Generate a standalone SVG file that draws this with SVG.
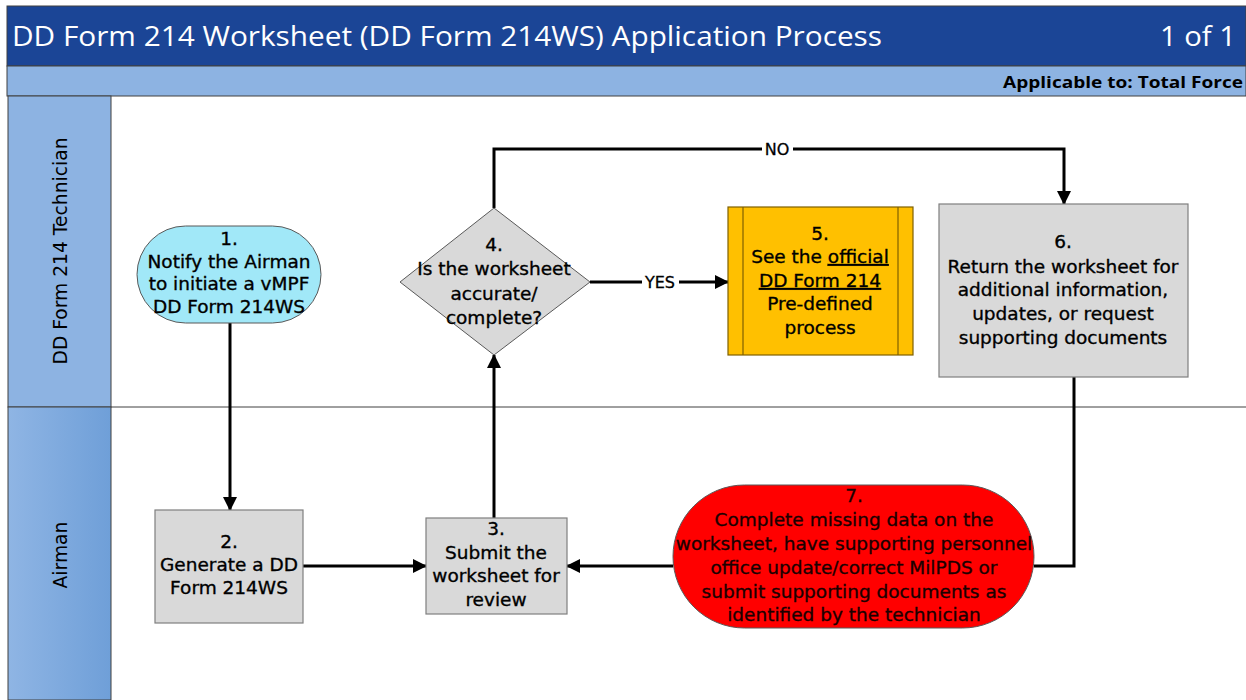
<svg xmlns="http://www.w3.org/2000/svg" width="1246" height="700" viewBox="0 0 1246 700">
<defs>
<marker id="arr" markerWidth="14" markerHeight="14" refX="13" refY="7" orient="auto" markerUnits="userSpaceOnUse" viewBox="0 0 14 14">
<path d="M0,0 L14,7 L0,14 z" fill="#000"/>
</marker>
<linearGradient id="laneG" x1="0" y1="0" x2="1" y2="0">
<stop offset="0" stop-color="#8fb5e4"/>
<stop offset="1" stop-color="#6f9fd8"/>
</linearGradient>
<style>
.t{font-family:"DejaVu Sans","Liberation Sans",sans-serif;font-size:18.5px;fill:#000;stroke:#000;stroke-width:0.35;text-anchor:middle}
.gray{fill:#d9d9d9;stroke:#7f7f7f;stroke-width:1.2}
.conn{fill:none;stroke:#000;stroke-width:3}
.lane{font-family:"DejaVu Sans","Liberation Sans",sans-serif;font-size:18.7px;fill:#000;text-anchor:middle}
.lbl{font-family:"DejaVu Sans","Liberation Sans",sans-serif;font-size:16px;fill:#000;stroke:#000;stroke-width:0.3;text-anchor:middle}
</style>
</defs>
<rect width="1246" height="700" fill="#fff"/>
<g id="header">
<rect x="7" y="6" width="1239" height="60" fill="#1b4596" stroke="#404040" stroke-width="1"/>
<text x="12" y="46" font-family="Open Sans, Liberation Sans, sans-serif" font-size="27" fill="#fff" textLength="870" lengthAdjust="spacingAndGlyphs">DD Form 214 Worksheet (DD Form 214WS) Application Process</text>
<text x="1236" y="46" font-family="Open Sans, Liberation Sans, sans-serif" font-size="27" fill="#fff" text-anchor="end" textLength="76" lengthAdjust="spacingAndGlyphs">1 of 1</text>
<rect x="7" y="66" width="1239" height="30" fill="#8db3e2" stroke="#404040" stroke-width="1"/>
<text x="1243" y="88" font-family="Open Sans, Liberation Sans, sans-serif" font-size="16" font-weight="bold" fill="#000" text-anchor="end" textLength="240" lengthAdjust="spacingAndGlyphs">Applicable to: Total Force</text>
</g>
<g id="lanes">
<rect x="8" y="96" width="103" height="311" fill="#8db3e2" stroke="#404040" stroke-width="1"/>
<rect x="8" y="407" width="103" height="293" fill="url(#laneG)" stroke="#404040" stroke-width="1"/>
<line x1="111" y1="407" x2="1246" y2="407" stroke="#404040" stroke-width="1"/>
<text class="lane" transform="translate(67,251) rotate(-90)">DD Form 214 Technician</text>
<text class="lane" transform="translate(67,555) rotate(-90)">Airman</text>
</g>
<g id="connectors">
<line class="conn" x1="230" y1="323" x2="230" y2="510" marker-end="url(#arr)"/>
<line class="conn" x1="303" y1="566" x2="426" y2="566" marker-end="url(#arr)"/>
<line class="conn" x1="494" y1="518" x2="494" y2="355" marker-end="url(#arr)"/>
<polyline class="conn" points="494,208 494,149 1064,149 1064,204" marker-end="url(#arr)"/>
<line class="conn" x1="590" y1="282" x2="728" y2="282" marker-end="url(#arr)"/>
<polyline class="conn" points="1074,377 1074,566 1034,566"/>
<line class="conn" x1="673" y1="566" x2="567" y2="566" marker-end="url(#arr)"/>
<rect x="762" y="140" width="31" height="18" fill="#fff"/>
<text class="lbl" x="777" y="155">NO</text>
<rect x="642" y="273" width="37" height="18" fill="#fff"/>
<text class="lbl" x="660" y="288">YES</text>
</g>
<g id="node1">
<rect x="137" y="226" width="184" height="97" rx="48.5" ry="48.5" fill="#a1e8f8" stroke="#595959" stroke-width="1"/>
<text class="t"><tspan x="229" y="245">1.</tspan><tspan x="229" y="268">Notify the Airman</tspan><tspan x="229" y="290">to initiate a vMPF</tspan><tspan x="229" y="313">DD Form 214WS</tspan></text>
</g>
<g id="node2">
<rect class="gray" x="155" y="510" width="148" height="113"/>
<text class="t"><tspan x="229" y="548">2.</tspan><tspan x="229" y="571">Generate a DD</tspan><tspan x="229" y="594">Form 214WS</tspan></text>
</g>
<g id="node3">
<rect class="gray" x="426" y="518" width="141" height="96"/>
<text class="t"><tspan x="496" y="535">3.</tspan><tspan x="496" y="559">Submit the</tspan><tspan x="496" y="582">worksheet for</tspan><tspan x="496" y="606">review</tspan></text>
</g>
<g id="node4">
<polygon points="494,208 590,282 494,355 400,282" fill="#d9d9d9" stroke="#595959" stroke-width="1"/>
<text class="t"><tspan x="494" y="251">4.</tspan><tspan x="494" y="275">Is the worksheet</tspan><tspan x="494" y="300">accurate/</tspan><tspan x="494" y="324">complete?</tspan></text>
</g>
<g id="node5">
<rect x="728" y="207" width="185" height="148" fill="#ffc000" stroke="#7f6000" stroke-width="1.2"/>
<line x1="743" y1="207" x2="743" y2="355" stroke="#7f6000" stroke-width="1.2"/>
<line x1="898" y1="207" x2="898" y2="355" stroke="#7f6000" stroke-width="1.2"/>
<text class="t"><tspan x="820" y="240">5.</tspan><tspan x="820" y="263">See the <tspan text-decoration="underline">official</tspan></tspan><tspan x="820" y="287" text-decoration="underline">DD Form 214</tspan><tspan x="820" y="310">Pre-defined</tspan><tspan x="820" y="334">process</tspan></text>
</g>
<g id="node6">
<rect class="gray" x="939" y="204" width="249" height="173"/>
<text class="t"><tspan x="1063" y="248">6.</tspan><tspan x="1063" y="273">Return the worksheet for</tspan><tspan x="1063" y="296">additional information,</tspan><tspan x="1063" y="320">updates, or request</tspan><tspan x="1063" y="344">supporting documents</tspan></text>
</g>
<g id="node7">
<rect x="673" y="485" width="361" height="143" rx="71.5" ry="71.5" fill="#ff0000" stroke="#595959" stroke-width="1"/>
<text class="t" style="fill:#1a0000;stroke:#1a0000"><tspan x="854" y="502">7.</tspan><tspan x="854" y="526">Complete missing data on the</tspan><tspan x="854" y="550">worksheet, have supporting personnel</tspan><tspan x="854" y="574">office update/correct MilPDS or</tspan><tspan x="854" y="598">submit supporting documents as</tspan><tspan x="854" y="621">identified by the technician</tspan></text>
</g>
</svg>
